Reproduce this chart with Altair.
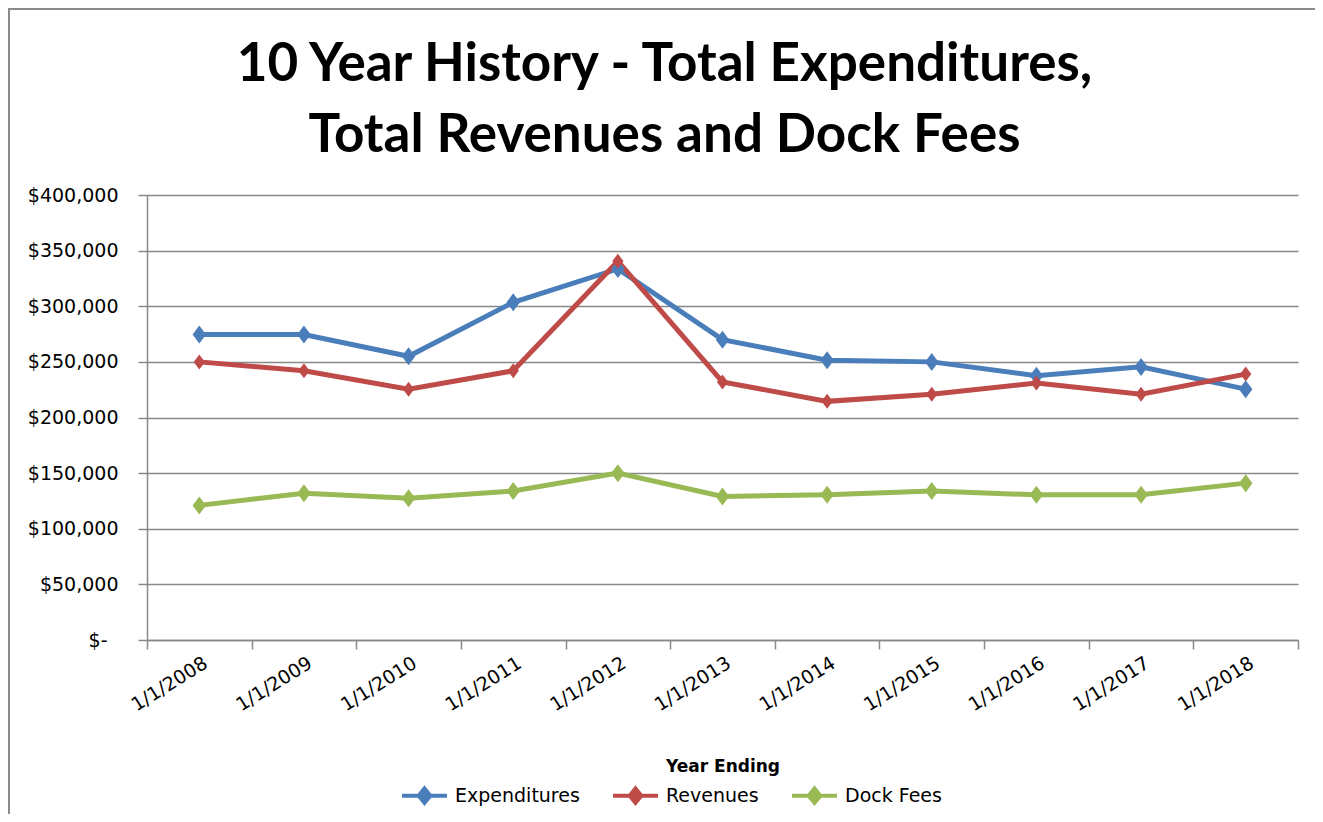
import altair as alt
import pandas as pd

years = ["1/1/2008", "1/1/2009", "1/1/2010", "1/1/2011", "1/1/2012", "1/1/2013",
         "1/1/2014", "1/1/2015", "1/1/2016", "1/1/2017", "1/1/2018"]
expenditures = [274500, 274500, 255000, 303500, 333500, 270000, 251500, 250000, 237500, 245500, 225500]
revenues = [250000, 242000, 225500, 242000, 340500, 232000, 214500, 221000, 231000, 221000, 239000]
dock_fees = [121000, 132000, 127500, 134000, 150000, 129000, 130500, 134000, 130500, 130500, 141000]

series_names = ["Expenditures", "Revenues", "Dock Fees"]
series_colors = ["#4A7EBB", "#BE4B48", "#98B954"]
title_lines = ["10 Year History - Total Expenditures,", "Total Revenues and Dock Fees"]

rows = []
for name, vals in zip(series_names, [expenditures, revenues, dock_fees]):
    for y, v in zip(years, vals):
        rows.append({"year": y, "value": v, "series": name})
df = pd.DataFrame(rows)

FONT = "DejaVu Sans"
TFONT = "Lato"
GRID = "#898989"

x_enc = alt.X("year:N", sort=years, scale=alt.Scale(type="band", paddingInner=0, paddingOuter=0),
              axis=alt.Axis(title="Year Ending", labelAngle=-32, labelAlign="right", labelBaseline="middle",
                            labelPadding=12, labelOffset=6, tickBand="extent", tickSize=9, tickColor=GRID,
                            tickWidth=1.5, domainColor=GRID, domainWidth=1.5, grid=False, labelFont=FONT,
                            labelFontSize=19, labelColor="black", titleFont=FONT, titleFontSize=17,
                            titleFontWeight="bold", titleColor="black", titleY=126, titleBaseline="middle"))
y_enc = alt.Y("value:Q", scale=alt.Scale(domain=[0, 400000], nice=False),
              axis=alt.Axis(title=None, values=list(range(0, 400001, 50000)),
                            labelExpr="datum.value == 0 ? '$-' : format(datum.value, '$,.0f')",
                            tickSize=9, tickColor=GRID, tickWidth=1.5, domainColor=GRID, domainWidth=1.5,
                            gridColor=GRID, gridWidth=1.5,
                            labelPadding={"condition": {"test": "datum.value === 0", "value": 31}, "value": 20},
                            labelFont=FONT, labelFontSize=19, labelColor="black"))

legend_path = "M-1,0L1,0M0,-0.32L0.26,0L0,0.32L-0.26,0Z"
color_enc = alt.Color("series:N", scale=alt.Scale(domain=series_names, range=series_colors),
                      sort=series_names,
                      legend=alt.Legend(title=None, orient="none", direction="horizontal",
                                        legendX=253, legendY=576, symbolType=legend_path,
                                        symbolSize=2025, symbolStrokeWidth=4, labelFont=FONT,
                                        labelFontSize=19, labelColor="black", labelOffset=6,
                                        columnPadding=25))

base = alt.Chart(df)
lines = base.mark_line(strokeWidth=5).encode(x=x_enc, y=y_enc, color=color_enc)
diamond = "M0,-1L0.75,0L0,1L-0.75,0Z"
point_sizes = [324, 225, 324]
point_layers = [
    base.transform_filter(alt.datum.series == name)
        .mark_point(shape=diamond, filled=True, opacity=1, size=sz)
        .encode(x=x_enc, y=y_enc, color=color_enc)
    for name, sz in zip(series_names, point_sizes)
]

one = alt.Chart(pd.DataFrame({"k": [0]}))
border_v = one.mark_rect(color="#8a8a8a").encode(
    x=alt.value(-139), x2=alt.value(-137), y=alt.value(-187), y2=alt.value(700))
border_h = one.mark_rect(color="#8a8a8a").encode(
    x=alt.value(-139), x2=alt.value(1168), y=alt.value(-187), y2=alt.value(-185))
title = one.mark_text(font=TFONT, fontSize=53, fontWeight="bold", color="black", align="center",
                      baseline="alphabetic", lineHeight=71).encode(
    x=alt.value(517.5), y=alt.value(-114), text=alt.value(title_lines))

chart = alt.layer(border_v, border_h, title, lines, *point_layers).properties(
    width=1151, height=445,
    padding={"left": 139, "top": 187, "right": 17, "bottom": 174},
    autosize=alt.AutoSizeParams(type="none"),
).configure_view(stroke=None)

chart.save("out.html", embed_options={"renderer": "svg", "actions": False})
